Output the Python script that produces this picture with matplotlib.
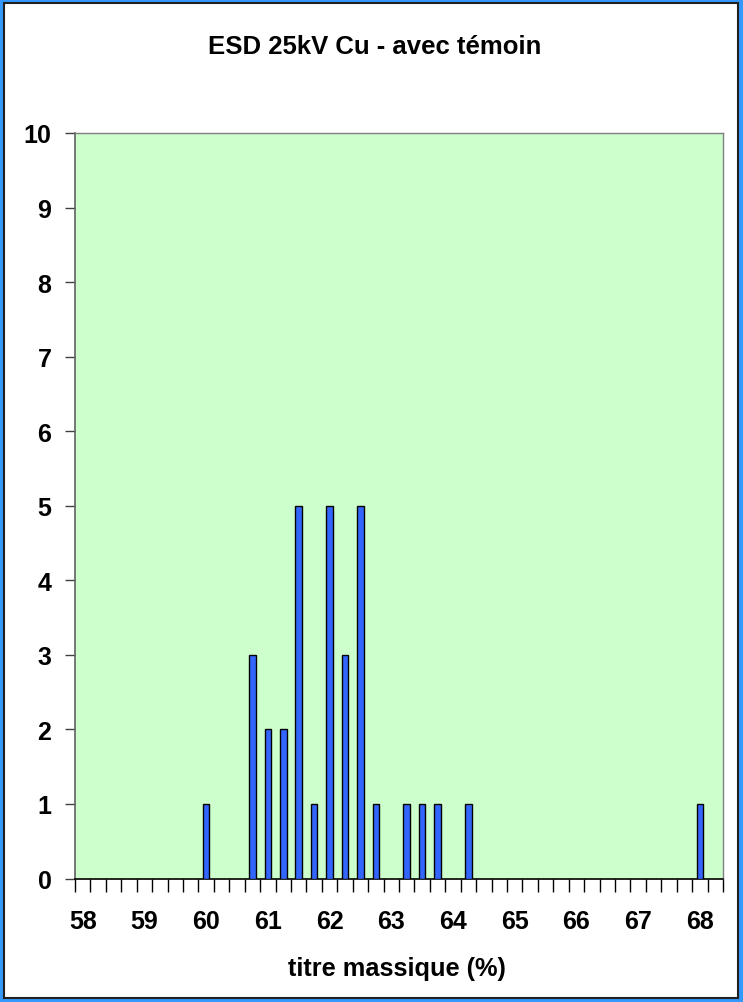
import numpy as np
import matplotlib
matplotlib.use("Agg")
import matplotlib.pyplot as plt
from matplotlib.patches import Rectangle

plt.rcParams['font.family'] = ['Liberation Sans', 'DejaVu Sans']

# histogram data: titre massique (%) classes and counts
titre = [60.0, 60.75, 61.0, 61.25, 61.5, 61.75, 62.0, 62.25, 62.5, 62.75,
         63.25, 63.5, 63.75, 64.25, 68.0]
counts = [1, 3, 2, 2, 5, 1, 5, 3, 5, 1, 1, 1, 1, 1, 1]
xticklabels = [58, 59, 60, 61, 62, 63, 64, 65, 66, 67, 68]
yticks = [0, 1, 2, 3, 4, 5, 6, 7, 8, 9, 10]

W, H = 743, 1003
fig = plt.figure(figsize=(W / 100, H / 100), dpi=100)
fig.patch.set_facecolor('#3399ff')

# white chart area with dark frame (behind the axes)
fig.patches.append(Rectangle((4 / W, 4 / H), 734 / W, 995 / H, transform=fig.transFigure,
                             facecolor='white', edgecolor='#202020', linewidth=1.5, zorder=-1))

ax = fig.add_axes([75 / W, (H - 879.5) / H, 648 / W, (879.5 - 134) / H])
ax.set_facecolor('#ccffcc')

ax.bar(titre, counts, width=0.105, color='#3366ff', edgecolor='black', linewidth=1.0, zorder=3)

ax.set_xlim(57.875, 68.375)
ax.set_ylim(0, 10)

ax.set_xticks(xticklabels)
ax.set_xticklabels([str(v) for v in xticklabels])
ax.set_xticks(np.arange(57.875, 68.4, 0.25), minor=True)
ax.tick_params(axis='x', which='major', length=0, pad=22, labelsize=18)
ax.tick_params(axis='x', which='minor', length=9, width=1, color='black', direction='out')

ax.set_yticks(yticks)
ax.tick_params(axis='y', length=7, width=1, color='#404040', direction='out', pad=10, labelsize=18)
for lab in ax.get_xticklabels() + ax.get_yticklabels():
    lab.set_fontweight('bold')

for s in ['top', 'right']:
    ax.spines[s].set_color('#808080')
    ax.spines[s].set_linewidth(1.0)
ax.spines['left'].set_color('#606060')
ax.spines['left'].set_linewidth(1.2)
ax.spines['bottom'].set_color('black')
ax.spines['bottom'].set_linewidth(1.2)

fig.text(374.5 / W, 1 - 47.5 / H, 'ESD 25kV Cu - avec témoin', ha='center', va='center',
         fontsize=18.5, fontweight='bold')
fig.text(397 / W, 1 - 969 / H, 'titre massique (%)', ha='center', va='center',
         fontsize=18.3, fontweight='bold')

fig.savefig('out.png', dpi=100, facecolor=fig.get_facecolor())
